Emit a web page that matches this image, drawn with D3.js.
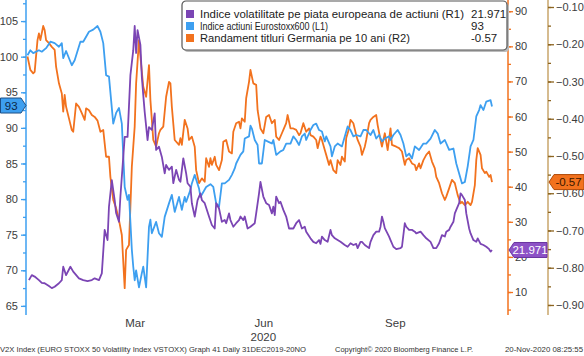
<!DOCTYPE html>
<html><head><meta charset="utf-8">
<script src="https://cdn.jsdelivr.net/npm/d3@7"></script>
<style>
html,body{margin:0;padding:0;background:#fff;}
svg{display:block;font-family:"Liberation Sans",Arial,sans-serif;}
</style></head>
<body><svg id="c" width="584" height="356"></svg>
<script>
// ---- data (days since 31 Dec 2019, value) ----
const startDate = new Date(2019, 11, 31);
const endDate = new Date(2020, 10, 20);

const seriesNames = [
  "Indice volatilitate pe piata europeana de actiuni (R1)",
  "Indice actiuni Eurostoxx600 (L1)",
  "Randament titluri Germania pe 10 ani (R2)"
];
const legendValues = ["21.971", "93", "-0.57"];

const stoxx600 = [[0,100.2],[2,100.9],[4,100.5],[8,100.9],[10,100.7],[13,101.2],[16,102.1],[19,101.9],[22,101.4],[24,101.9],[25,99.8],[27,100.8],[31,98.8],[33,99.5],[37,102.1],[39,102.1],[43,103.5],[46,103.8],[49,104.3],[51,103.5],[53,101.9],[55,97.4],[57,97.2],[60,90.6],[62,92.1],[64,92.8],[66,90.6],[68,81.7],[70,79.9],[71,80.6],[73,72.9],[74,70.5],[75,68.6],[76,70.0],[78,67.6],[80,69.6],[81,70.5],[83,67.6],[85,76.1],[86,77.1],[87,75.2],[90,76.8],[92,75.2],[94,74.7],[96,77.5],[99,79.4],[101,80.6],[103,78.2],[106,80.3],[108,78.5],[110,80.3],[111,79.6],[114,81.3],[115,82.2],[117,83.4],[120,81.5],[121,80.3],[123,81.0],[125,81.7],[128,82.1],[130,81.7],[132,79.4],[134,78.9],[136,82.2],[138,82.2],[141,82.7],[143,83.4],[145,84.3],[146,85.0],[149,86.2],[151,86.7],[152,88.5],[155,88.8],[156,90.3],[157,89.9],[159,88.3],[161,87.6],[162,85.0],[164,85.0],[166,88.3],[169,88.0],[171,87.8],[172,88.3],[174,86.2],[177,86.7],[179,86.9],[181,87.8],[184,87.8],[186,88.8],[188,88.3],[190,87.6],[192,88.8],[194,89.2],[195,88.3],[198,89.7],[200,90.4],[202,90.6],[204,89.7],[206,89.5],[208,88.1],[209,88.8],[212,87.4],[213,86.0],[215,87.4],[217,87.8],[220,87.4],[222,88.8],[224,90.2],[226,89.7],[228,88.8],[230,89.0],[233,88.8],[235,89.7],[237,89.7],[240,89.0],[242,89.7],[244,88.5],[246,89.0],[248,88.1],[250,88.5],[253,88.8],[254,88.3],[256,89.0],[259,89.7],[261,89.0],[263,87.8],[265,86.0],[267,86.4],[269,85.7],[271,87.4],[274,86.9],[277,87.8],[279,87.8],[282,88.5],[285,89.7],[287,89.2],[289,87.8],[292,88.3],[295,86.9],[298,87.1],[300,85.0],[302,83.6],[304,82.2],[306,82.4],[308,84.6],[310,87.4],[312,88.3],[314,91.6],[316,92.5],[317,93.2],[319,92.5],[321,93.7],[324,93.9],[325,93.0]];

const bundYield = [[0,-0.233],[2,-0.269],[4,-0.278],[5,-0.274],[7,-0.189],[8,-0.171],[9,-0.189],[11,-0.151],[12,-0.162],[13,-0.189],[15,-0.197],[17,-0.207],[19,-0.215],[20,-0.260],[22,-0.305],[24,-0.332],[25,-0.381],[26,-0.336],[27,-0.368],[29,-0.399],[31,-0.430],[32,-0.435],[34,-0.359],[36,-0.368],[38,-0.385],[40,-0.403],[41,-0.372],[43,-0.377],[45,-0.390],[47,-0.395],[49,-0.405],[51,-0.435],[53,-0.430],[54,-0.466],[55,-0.502],[57,-0.502],[58,-0.556],[60,-0.618],[62,-0.640],[64,-0.672],[66,-0.712],[68,-0.855],[69,-0.752],[71,-0.739],[72,-0.636],[73,-0.529],[74,-0.475],[75,-0.421],[76,-0.305],[78,-0.189],[79,-0.233],[81,-0.314],[83,-0.341],[85,-0.256],[86,-0.350],[88,-0.457],[90,-0.475],[92,-0.439],[93,-0.430],[95,-0.421],[97,-0.341],[99,-0.301],[100,-0.305],[101,-0.368],[103,-0.457],[106,-0.470],[107,-0.452],[108,-0.470],[110,-0.403],[112,-0.426],[113,-0.457],[115,-0.448],[117,-0.475],[118,-0.538],[120,-0.573],[122,-0.560],[124,-0.569],[125,-0.506],[127,-0.529],[128,-0.506],[129,-0.524],[131,-0.502],[132,-0.524],[134,-0.538],[136,-0.511],[137,-0.462],[139,-0.457],[141,-0.488],[143,-0.493],[144,-0.435],[146,-0.412],[148,-0.408],[149,-0.426],[150,-0.399],[152,-0.408],[153,-0.345],[155,-0.301],[156,-0.269],[158,-0.305],[160,-0.309],[161,-0.377],[163,-0.426],[165,-0.439],[167,-0.395],[169,-0.390],[171,-0.412],[173,-0.403],[174,-0.448],[176,-0.457],[178,-0.439],[179,-0.430],[181,-0.412],[182,-0.390],[184,-0.426],[186,-0.426],[188,-0.430],[190,-0.444],[191,-0.439],[193,-0.412],[195,-0.435],[197,-0.426],[198,-0.444],[200,-0.448],[202,-0.457],[203,-0.479],[205,-0.448],[206,-0.457],[208,-0.484],[209,-0.497],[211,-0.524],[212,-0.511],[214,-0.538],[216,-0.546],[217,-0.511],[219,-0.524],[220,-0.502],[222,-0.515],[223,-0.452],[225,-0.426],[226,-0.403],[228,-0.412],[230,-0.444],[231,-0.457],[233,-0.475],[234,-0.497],[236,-0.475],[237,-0.457],[239,-0.412],[240,-0.403],[242,-0.395],[244,-0.390],[245,-0.417],[247,-0.457],[248,-0.475],[250,-0.439],[252,-0.484],[254,-0.426],[255,-0.470],[258,-0.475],[260,-0.479],[262,-0.488],[264,-0.524],[265,-0.511],[267,-0.506],[269,-0.520],[271,-0.524],[272,-0.538],[274,-0.520],[275,-0.533],[277,-0.511],[279,-0.497],[281,-0.488],[283,-0.515],[285,-0.533],[286,-0.556],[288,-0.573],[290,-0.600],[292,-0.618],[293,-0.609],[295,-0.587],[297,-0.564],[299,-0.573],[301,-0.605],[303,-0.627],[304,-0.623],[306,-0.632],[308,-0.623],[310,-0.632],[311,-0.623],[313,-0.578],[314,-0.511],[315,-0.479],[317,-0.497],[318,-0.533],[320,-0.546],[321,-0.542],[323,-0.556],[324,-0.551],[325,-0.57]];

const v2x = [[1,13.4],[3,14.8],[5,14.4],[8,13.4],[10,12.6],[12,12.5],[15,11.7],[17,11.1],[19,11.5],[22,12.5],[24,13.4],[25,17.2],[27,14.8],[30,17.2],[32,15.8],[36,13.9],[39,13.4],[42,13.1],[45,13.4],[47,13.9],[50,13.4],[52,15.3],[54,27.7],[56,24.8],[57,34.3],[59,41.9],[61,36.2],[62,32.5],[64,30.0],[65,37.2],[67,48.5],[68,54.2],[70,54.2],[72,71.8],[74,78.9],[75,85.8],[76,78.1],[77,84.6],[79,80.4],[80,71.3],[81,66.1],[82,61.3],[84,53.3],[85,57.0],[87,56.2],[89,60.9],[90,50.5],[92,51.4],[94,48.5],[96,43.8],[97,46.2],[99,44.8],[101,45.7],[102,41.0],[104,44.8],[106,42.0],[107,41.4],[109,48.1],[111,43.8],[112,41.0],[114,40.0],[115,35.3],[117,31.5],[119,36.2],[121,38.1],[122,36.2],[124,35.3],[127,31.5],[129,29.1],[131,28.1],[132,35.3],[134,33.8],[136,30.0],[138,30.5],[139,29.6],[141,32.4],[142,30.5],[144,28.6],[146,29.6],[148,30.5],[149,31.5],[151,30.5],[152,31.5],[154,28.1],[156,28.6],[159,29.6],[160,32.4],[162,38.1],[163,41.4],[165,37.2],[167,35.3],[169,34.8],[171,32.4],[172,34.3],[173,31.9],[174,37.2],[176,35.3],[177,35.7],[179,33.4],[181,31.5],[183,28.1],[186,28.1],[188,29.6],[190,30.5],[192,28.1],[194,28.6],[195,27.2],[198,25.3],[200,24.3],[202,23.9],[204,24.8],[205,23.7],[206,25.8],[208,24.8],[210,24.3],[212,27.7],[213,26.2],[215,25.3],[217,24.8],[219,24.3],[222,23.4],[224,22.9],[226,23.9],[228,23.4],[230,23.7],[231,22.5],[233,24.3],[234,24.3],[236,23.4],[239,22.5],[240,24.3],[242,26.2],[244,27.2],[246,27.2],[247,28.6],[248,31.5],[249,30.0],[250,28.2],[253,25.8],[254,24.8],[256,22.9],[258,22.2],[261,22.5],[262,22.9],[264,29.6],[265,28.6],[267,27.7],[269,27.7],[271,27.2],[272,26.7],[275,27.2],[277,26.2],[279,25.3],[282,24.3],[284,22.5],[286,22.5],[288,23.9],[290,26.2],[292,25.8],[293,27.2],[295,27.7],[296,28.6],[298,30.0],[299,32.4],[300,33.4],[302,35.3],[303,38.1],[304,37.6],[306,36.2],[307,32.4],[309,28.1],[310,26.7],[312,24.8],[314,24.3],[315,25.3],[317,23.7],[319,23.4],[321,22.9],[323,22.2],[324,21.5],[325,21.971]];

const leftTicks = [65,70,75,80,85,90,95,100,105];
const r1Ticks = [10,20,30,40,50,60,70,80,90];
const r2Ticks = [-0.9,-0.8,-0.7,-0.6,-0.5,-0.4,-0.3,-0.2,-0.1];
const monthLabels = ["Mar","Jun","Sep"];
const monthDates = ["2020-03-15","2020-06-13","2020-09-13"];
const yearLabel = "2020";
const footerTexts = ["V2X Index (EURO STOXX 50 Volatility Index VSTOXX) Graph 41  Daily 31DEC2019-20NO",
  "Copyright\u00A9 2020 Bloomberg Finance L.P.", "20-Nov-2020 08:25:55"];

// ---- styling ----
const C_PURPLE = "#7b45b4", C_BLUE = "#3d9ff0", C_ORANGE = "#f2721e";
const C_R2AXIS = "#c9a66b", C_R2TICK = "#8c6420";
const TXT = "#3c3c3c";

const svg = d3.select("#c");
const yTop = 0, yBottom = 315;
const axL = 26, axR1 = 508, axR2 = 548;

const x = d3.scaleTime().domain([startDate, endDate]).range([27.5, 492]);
const day = d => d3.timeDay.offset(startDate, d);
const yL = d3.scaleLinear().domain([63.72, 107.96]).range([yBottom, yTop]);
const yR1 = d3.scaleLinear().domain([3.45, 93.2]).range([yBottom, yTop]);
const yR2 = d3.scaleLinear().domain([-0.9269, -0.0812]).range([yBottom, yTop]);

function styleAxis(g, tickColor) {
  g.select(".domain").remove();
  g.selectAll(".tick line").attr("stroke", tickColor).attr("stroke-width", 1.3);
  g.selectAll(".tick text").attr("fill", TXT).style("font-size", "11px");
}

// left axis
svg.append("line").attr("x1", axL).attr("x2", axL).attr("y1", yTop).attr("y2", yBottom)
  .attr("stroke", C_BLUE).attr("stroke-width", 1.5);
svg.append("g").attr("transform", `translate(${axL},0)`)
  .call(d3.axisLeft(yL).tickValues(d3.range(65, 107.6, 2.5)).tickSize(3).tickFormat(""))
  .call(g => styleAxis(g, C_BLUE));
svg.append("g").attr("transform", `translate(${axL},0)`)
  .call(d3.axisLeft(yL).tickValues(leftTicks).tickSize(5).tickPadding(3).tickFormat(d3.format("d")))
  .call(g => styleAxis(g, C_BLUE));

// R1 axis
svg.append("line").attr("x1", axR1).attr("x2", axR1).attr("y1", yTop).attr("y2", yBottom)
  .attr("stroke", C_ORANGE).attr("stroke-width", 1.5);
svg.append("g").attr("transform", `translate(${axR1},0)`)
  .call(d3.axisRight(yR1).tickValues(d3.range(5, 93, 5)).tickSize(3).tickFormat(""))
  .call(g => styleAxis(g, C_ORANGE));
svg.append("g").attr("transform", `translate(${axR1},0)`)
  .call(d3.axisRight(yR1).tickValues(r1Ticks).tickSize(5).tickPadding(2).tickFormat(d3.format("d")))
  .call(g => styleAxis(g, C_ORANGE));

// R2 axis
svg.append("line").attr("x1", axR2).attr("x2", axR2).attr("y1", yTop).attr("y2", yBottom)
  .attr("stroke", C_R2AXIS).attr("stroke-width", 1.5);
svg.append("g").attr("transform", `translate(${axR2},0)`)
  .call(d3.axisRight(yR2).tickValues(d3.range(-0.9, -0.08, 0.05)).tickSize(3).tickFormat(""))
  .call(g => styleAxis(g, C_R2TICK));
svg.append("g").attr("transform", `translate(${axR2},0)`)
  .call(d3.axisRight(yR2).tickValues(r2Ticks).tickSize(6).tickPadding(2).tickFormat(d3.format(".2f")))
  .call(g => styleAxis(g, C_R2TICK));

// x labels
const parseD = d3.timeParse("%Y-%m-%d");
const xg = svg.append("g").attr("transform", `translate(0,${yBottom})`)
  .call(d3.axisBottom(x).tickValues(monthDates.map(parseD))
    .tickSize(0).tickPadding(4).tickFormat((d, i) => monthLabels[i]));
xg.select(".domain").remove();
xg.selectAll(".tick text").attr("fill", TXT).style("font-size", "11.5px");
svg.append("text").attr("x", x(parseD(monthDates[1]))).attr("y", 341)
  .attr("text-anchor", "middle").attr("fill", TXT).style("font-size", "11.5px").text(yearLabel);

// lines
const lineL = d3.line().x(d => x(day(d[0]))).y(d => yL(d[1]));
const lineR1 = d3.line().x(d => x(day(d[0]))).y(d => yR1(d[1]));
const lineR2 = d3.line().x(d => x(day(d[0]))).y(d => yR2(d[1]));
svg.append("path").datum(bundYield).attr("d", lineR2).attr("fill", "none")
  .attr("stroke", C_ORANGE).attr("stroke-width", 1.8).attr("stroke-linejoin", "round");
svg.append("path").datum(stoxx600).attr("d", lineL).attr("fill", "none")
  .attr("stroke", C_BLUE).attr("stroke-width", 1.8).attr("stroke-linejoin", "round");
svg.append("path").datum(v2x).attr("d", lineR1).attr("fill", "none")
  .attr("stroke", C_PURPLE).attr("stroke-width", 1.8).attr("stroke-linejoin", "round");

// tags
function tagRight(x0, x1, yc, h, fill, stroke, txt, tcol) {
  const p = [[x0, yc - h/2], [x1 - 5, yc - h/2], [x1, yc], [x1 - 5, yc + h/2], [x0, yc + h/2]];
  svg.append("path").attr("d", d3.line()(p) + "Z").attr("fill", fill).attr("stroke", stroke).attr("stroke-width", 1);
  svg.append("text").attr("x", (x0 + x1 - 4) / 2).attr("y", yc + 4).attr("text-anchor", "middle")
    .attr("fill", tcol).style("font-size", "11.5px").text(txt);
}
function tagLeft(x0, x1, yc, h, fill, stroke, txt, tcol) {
  const p = [[x0, yc], [x0 + 5, yc - h/2], [x1, yc - h/2], [x1, yc + h/2], [x0 + 5, yc + h/2]];
  svg.append("path").attr("d", d3.line()(p) + "Z").attr("fill", fill).attr("stroke", stroke).attr("stroke-width", 1);
  svg.append("text").attr("x", (x0 + 4 + x1) / 2).attr("y", yc + 4).attr("text-anchor", "middle")
    .attr("fill", tcol).style("font-size", "11.5px").text(txt);
}
const lastL = stoxx600[stoxx600.length - 1][1];
const lastR1 = v2x[v2x.length - 1][1];
const lastR2 = bundYield[bundYield.length - 1][1];
tagRight(0.5, 26, yL(lastL) - 1, 15, C_BLUE, "#1d4f86", legendValues[1], "#0c2748");
tagLeft(509, 547, yR1(lastR1), 15, "#8d52c6", "#6a35a0", legendValues[0], "#ffffff");
tagLeft(549, 584, yR2(lastR2), 15, C_ORANGE, "#b04a08", legendValues[2], "#3a1800");

// legend
const lg = svg.append("g");
lg.append("rect").attr("x", 184).attr("y", 3).attr("width", 325).attr("height", 49).attr("rx", 4)
  .attr("fill", "#bbb");
lg.append("rect").attr("x", 182).attr("y", 1).attr("width", 325).attr("height", 49).attr("rx", 4)
  .attr("fill", "#fff").attr("stroke", "#555").attr("stroke-width", 1.2);
const legColors = [C_PURPLE, C_BLUE, C_ORANGE];
const legWidths = [264, 128, 210];
seriesNames.forEach((n, i) => {
  const yb = 18 + i * 12;
  lg.append("rect").attr("x", 186).attr("y", yb - 8).attr("width", 8).attr("height", 8).attr("fill", legColors[i]);
  lg.append("text").attr("x", 200).attr("y", yb).attr("fill", "#222").style("font-size", "11.5px")
    .attr("textLength", legWidths[i]).attr("lengthAdjust", "spacingAndGlyphs").text(n);
  lg.append("text").attr("x", 471).attr("y", yb).attr("fill", "#222").style("font-size", "11.5px")
    .text(legendValues[i]);
});

// footer
const fx = [0, 335, 505], fw = [306, 138, 78];
footerTexts.forEach((t, i) => {
  svg.append("text").attr("x", fx[i]).attr("y", 352).attr("fill", "#333").style("font-size", "8px")
    .attr("textLength", fw[i]).attr("lengthAdjust", "spacingAndGlyphs").text(t);
});
</script></body></html>
